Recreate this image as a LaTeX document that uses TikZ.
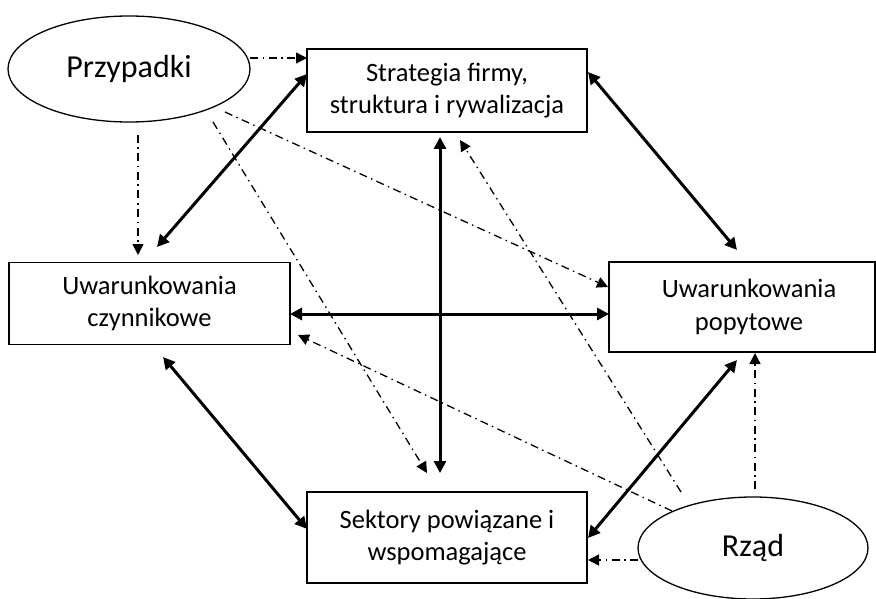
\documentclass[tikz,border=0pt]{standalone}
\usepackage{fontspec}
\setmainfont{Carlito}
\usetikzlibrary{arrows.meta,shapes.geometric}
\begin{document}
\begin{tikzpicture}[x=1pt,y=-1pt,
  box/.style={draw,line width=1.5pt,rectangle,inner sep=0pt,align=center,
    font=\fontsize{26.5}{32.5}\selectfont},
  oval/.style={draw,line width=1.3pt,ellipse,inner sep=0pt,
    font=\fontsize{32}{38}\selectfont},
  strong/.style={line width=3pt,{Triangle[length=12pt,width=12pt]}-{Triangle[length=12pt,width=12pt]}},
  weak/.style={line width=1.3pt,dash pattern=on 8pt off 4.5pt on 1.5pt off 4.5pt,
    -{Triangle[length=11pt,width=11pt]}}]
\useasboundingbox (0,0) rectangle (876,599);

% factors of the diamond
\node[box,minimum width=280pt,minimum height=83pt] (strat) at (447,90.5)
  {Strategia firmy,\\struktura i rywalizacja};
\node[box,minimum width=281pt,minimum height=82pt] (czyn) at (149.5,303.5)
  {Uwarunkowania\\czynnikowe};
\node[box,minimum width=266pt,minimum height=90pt] (popyt) at (742,307)
  {\hspace*{14pt}Uwarunkowania\\\hspace*{14pt}popytowe};
\node[box,minimum width=280pt,minimum height=91pt] (sekt) at (447,537.5)
  {Sektory powiązane i\\wspomagające};

% outside influences
\node[oval,minimum width=242pt,minimum height=106pt] (przyp) at (129,69) {Przypadki};
\node[oval,minimum width=230pt,minimum height=102pt] (rzad) at (753,548) {Rząd};

% ends of the connectors
\coordinate (sA) at (588,72);   \coordinate (pA) at (737,250);
\coordinate (sB) at (307,74);   \coordinate (cB) at (157,247);
\coordinate (cC) at (163,357);  \coordinate (kC) at (307,529);
\coordinate (kD) at (588,538);  \coordinate (pD) at (737,360);
\coordinate (cE) at (290,314);  \coordinate (pE) at (609,314);
\coordinate (sF) at (440,137);  \coordinate (kF) at (440,473);

\coordinate (z1) at (250,58);   \coordinate (s1) at (307,58);
\coordinate (z2) at (138,135);  \coordinate (c2) at (138,255);
\coordinate (z3) at (225,112);  \coordinate (p3) at (608,287);
\coordinate (z4) at (213,122);  \coordinate (k4) at (427,473);
\coordinate (r5) at (681,492);  \coordinate (s5) at (460,140);
\coordinate (r6) at (672,511);  \coordinate (c6) at (298,335);
\coordinate (r7) at (755,489);  \coordinate (p7) at (755,353);
\coordinate (r8) at (638,560);  \coordinate (k8) at (588,560);

% mutual links
\draw[strong] (sA) -- (pA);
\draw[strong] (sB) -- (cB);
\draw[strong] (cC) -- (kC);
\draw[strong] (kD) -- (pD);
\draw[strong] (cE) -- (pE);
\draw[strong] (sF) -- (kF);

% one-way influences
\draw[weak] (z1) -- (s1);
\draw[weak] (z2) -- (c2);
\draw[weak] (z3) -- (p3);
\draw[weak] (z4) -- (k4);
\draw[weak] (r5) -- (s5);
\draw[weak] (r6) -- (c6);
\draw[weak] (r7) -- (p7);
\draw[weak] (r8) -- (k8);
\end{tikzpicture}
\end{document}
